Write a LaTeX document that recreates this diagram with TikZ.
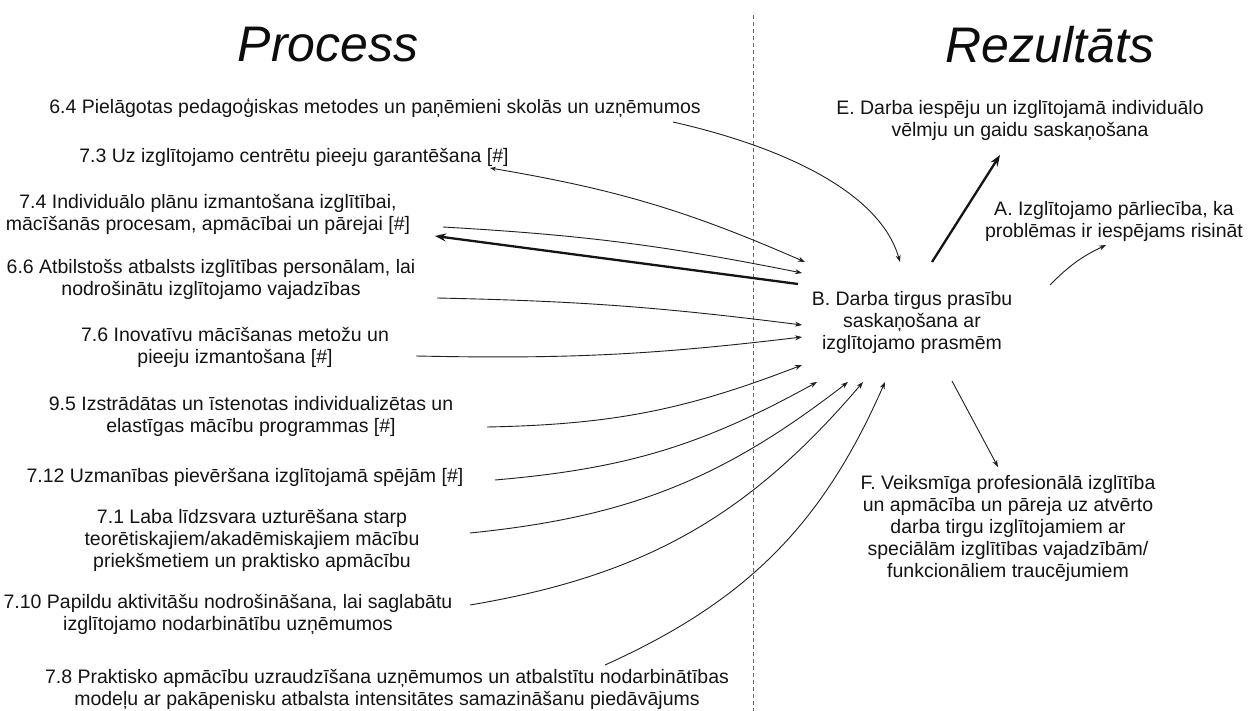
\documentclass[tikz,border=0pt]{standalone}
\usepackage{fontspec}
\setmainfont{Liberation Sans}
\usetikzlibrary{arrows.meta,calc}
\begin{document}
\begin{tikzpicture}[x=1pt,y=-1pt,
  txt/.style={align=center,font=\fontsize{19.5}{22}\selectfont,inner sep=0pt,text=black!92},
  ttl/.style={font=\fontsize{50}{58}\selectfont\itshape,inner sep=0pt,text=black!95},
  con/.style={draw=black!88,line width=0.9pt,-{Stealth[length=7pt,width=5pt]}},
  heavy/.style={draw=black!92,line width=2.3pt,-{Stealth[length=11pt,width=8pt]}},
  divider/.style={draw=black!60,line width=0.9pt,dash pattern=on 4pt off 3pt}
]
\useasboundingbox (0,0) rectangle (1255,711);
\fill[white] (0,0) rectangle (1255,711);

% titles and divider
\node[ttl] (tp) at (328,45) {Process};
\node[ttl] (tr) at (1050,45) {Rezultāts};
\draw[divider] (753,15) -- (753,711);

% process nodes
\node[txt] (n64) at (375,108) {6.4 Pielāgotas pedagoģiskas metodes un paņēmieni skolās un uzņēmumos};
\node[txt] (n73) at (294,157) {7.3 Uz izglītojamo centrētu pieeju garantēšana [\#]};
\node[txt] (n74) at (208,214) {7.4 Individuālo plānu izmantošana izglītībai,\\ mācīšanās procesam, apmācībai un pārejai [\#]};
\node[txt] (n66) at (211,279) {6.6 Atbilstošs atbalsts izglītības personālam, lai\\ nodrošinātu izglītojamo vajadzības};
\node[txt] (n76) at (235,347) {7.6 Inovatīvu mācīšanas metožu un\\ pieeju izmantošana [\#]};
\node[txt] (n95) at (251,416) {9.5 Izstrādātas un īstenotas individualizētas un\\ elastīgas mācību programmas [\#]};
\node[txt] (n712) at (245,477) {7.12 Uzmanības pievēršana izglītojamā spējām [\#]};
\node[txt] (n71) at (252,540) {7.1 Laba līdzsvara uzturēšana starp\\ teorētiskajiem/akadēmiskajiem mācību\\ priekšmetiem un praktisko apmācību};
\node[txt] (n710) at (228,614) {7.10 Papildu aktivitāšu nodrošināšana, lai saglabātu\\ izglītojamo nodarbinātību uzņēmumos};
\node[txt] (n78) at (387,689) {7.8 Praktisko apmācību uzraudzīšana uzņēmumos un atbalstītu nodarbinātības\\ modeļu ar pakāpenisku atbalsta intensitātes samazināšanu piedāvājums};

% result nodes
\node[txt] (E) at (1020,121) {E. Darba iespēju un izglītojamā individuālo\\ vēlmju un gaidu saskaņošana};
\node[txt] (A) at (1114,221) {A. Izglītojamo pārliecība, ka\\ problēmas ir iespējams risināt};
\node[txt] (B) at (912,322) {B. Darba tirgus prasību\\ saskaņošana ar\\ izglītojamo prasmēm};
\node[txt] (F) at (1008,528) {F. Veiksmīga profesionālā izglītība\\ un apmācība un pāreja uz atvērto\\ darba tirgu izglītojamiem ar\\ speciālām izglītības vajadzībām/\\ funkcionāliem traucējumiem};

% connectors into B
\draw[con] ($(n64)+(298,14)$) .. controls +(110,25) and +(-20,-70) .. ($(B)+(-12,-60)$);
\draw[con,{Stealth[length=6pt,width=4.5pt]}-{Stealth[length=7pt,width=5pt]}] ($(n73)+(196,11)$) to[bend left=7] ($(B)+(-107,-60)$);
\draw[con] ($(n74)+(235,13)$) to[bend left=4] ($(B)+(-110,-49)$);
\draw[heavy] ($(B)+(-114,-38)$) -- ($(n74)+(227,22)$);
\draw[con] ($(n66)+(226,19)$) to[bend left=3] ($(B)+(-110,3)$);
\draw[con] ($(n76)+(181,9)$) to[bend right=4] ($(B)+(-110,15)$);
\draw[con] ($(n95)+(236,11)$) to[bend right=10] ($(B)+(-110,43)$);
\draw[con] ($(n712)+(250,3)$) to[bend right=12] ($(B)+(-95,60)$);
\draw[con] ($(n71)+(218,-7)$) to[bend right=16] ($(B)+(-64,60)$);
\draw[con] ($(n710)+(242,-9)$) to[bend right=20] ($(B)+(-49,60)$);
\draw[con] ($(n78)+(218,-24)$) to[bend right=21] ($(B)+(-27,60)$);

% connectors out of B
\draw[heavy] ($(B)+(20,-60)$) -- ($(E)+(-20,34)$);
\draw[con] ($(B)+(138,-37)$) to[bend left=10] ($(A)+(-8,24)$);
\draw[con] ($(B)+(40,59)$) -- ($(F)+(-10,-61)$);
\end{tikzpicture}
\end{document}
